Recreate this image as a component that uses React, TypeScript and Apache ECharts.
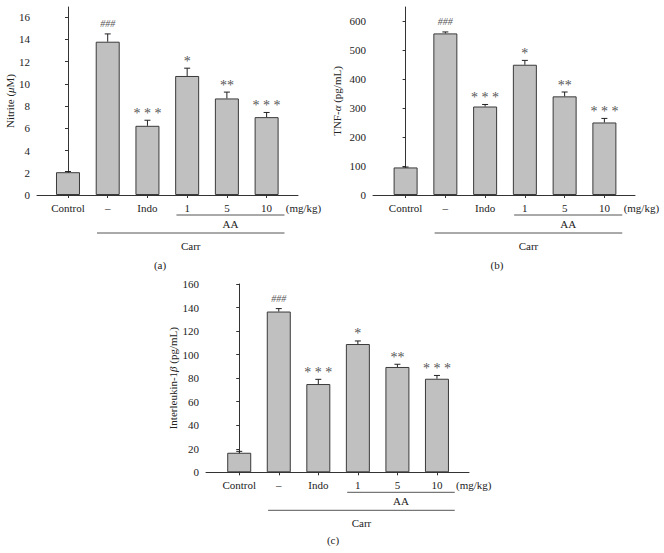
import React, { useEffect, useRef } from "react";
import * as echarts from "echarts";

const categories = ["Control", "–", "Indo", "1", "5", "10"];
const unitLabel = "(mg/kg)";
const nitriteMean = [2.05, 13.78, 6.22, 10.7, 8.68, 7.0];
const nitriteErr = [0.06, 0.7, 0.5, 0.7, 0.57, 0.42];
const tnfMean = [95, 557, 305, 449, 340, 250];
const tnfErr = [1.5, 5, 7, 15, 15, 14];
const il1bMean = [16.6, 136.6, 75, 109, 89.5, 79.5];
const il1bErr = [1.2, 2.5, 4, 2.6, 2.3, 2.8];
const significance = ["", "###", "* * *", "*", "**", "* * *"];
const nitriteTicks = [0, 2, 4, 6, 8, 10, 12, 14, 16];
const tnfTicks = [0, 100, 200, 300, 400, 500, 600];
const il1bTicks = [0, 20, 40, 60, 80, 100, 120, 140, 160];
const groupLabels = ["AA", "Carr"];
const groupFrom = [3, 1];
const groupTo = [5, 5];
const panelLetters = ["(a)", "(b)", "(c)"];

const FONT = "Liberation Serif";
const catIdx = categories.map((_, i) => i);
const unitPos = 5.93;

export default function App() {
  const ref = useRef<HTMLDivElement>(null);
  useEffect(() => {
    if (!ref.current) return;
    const chart = echarts.init(ref.current, null, { renderer: "svg" });

    const panels = [
      { mean: nitriteMean, err: nitriteErr, ticks: nitriteTicks, name: "Nitrite ({i|μ}M)",
        grid: { left: 37, top: 7, width: 261, height: 188 }, yMax: 16.9, xMin: -0.78, xMax: 5.79, nameGap: 20,
        cap: [160, 265] },
      { mean: tnfMean, err: tnfErr, ticks: tnfTicks, name: "TNF-{i|α} (pg/mL)",
        grid: { left: 373, top: 7, width: 262, height: 188 }, yMax: 648, xMin: -0.82, xMax: 5.77, nameGap: 31,
        cap: [497, 265] },
      { mean: il1bMean, err: il1bErr, ticks: il1bTicks, name: "Interleukin-1{i|β} (pg/mL)",
        grid: { left: 206, top: 284, width: 263, height: 188.3 }, yMax: 160, xMin: -0.84, xMax: 5.81, nameGap: 19,
        cap: [333, 540] },
    ];

    const axisLineStyle = { color: "#333", width: 1 };
    const textStyle = { fontFamily: FONT, fontSize: 11, fill: "#222", stroke: "none", lineWidth: 0, textAlign: "center", textVerticalAlign: "middle" };
    const grids: any[] = [];
    const xAxes: any[] = [];
    const yAxes: any[] = [];
    const series: any[] = [];
    const graphics: any[] = [];

    panels.forEach((p, k) => {
      grids.push({ ...p.grid, containLabel: false });
      xAxes.push({
        type: "value", gridIndex: k, min: p.xMin, max: p.xMax,
        axisLine: { show: true, onZero: false, lineStyle: axisLineStyle },
        splitLine: { show: false },
        axisTick: { show: true, length: 3, customValues: catIdx, lineStyle: axisLineStyle },
        axisLabel: { show: false },
      });
      yAxes.push({
        type: "value", gridIndex: k, min: 0, max: p.yMax,
        name: p.name, nameLocation: "middle", nameRotate: 90, nameGap: p.nameGap,
        nameTextStyle: { fontFamily: FONT, fontSize: 11, color: "#222", rich: { i: { fontFamily: FONT, fontSize: 11, fontStyle: "italic", color: "#222" } } },
        axisLine: { show: true, lineStyle: axisLineStyle },
        splitLine: { show: false },
        axisTick: { show: true, length: 3, customValues: p.ticks, lineStyle: axisLineStyle },
        axisLabel: { customValues: p.ticks, margin: 7, fontFamily: FONT, fontSize: 11, color: "#222" },
      });
      series.push({
        type: "bar", xAxisIndex: k, yAxisIndex: k, barWidth: 24,
        data: p.mean.map((v, i) => [i, v]),
        itemStyle: { color: "#c0c0c0", borderColor: "#3a3a3a", borderWidth: 1 },
      });
      series.push({
        type: "custom", xAxisIndex: k, yAxisIndex: k, clip: false, z: 5,
        data: p.mean.map((v, i) => [i, v, p.err[i]]),
        encode: { x: 0, y: 1 },
        renderItem: (params: any, api: any) => {
          const x = api.value(0), v = api.value(1), e = api.value(2);
          const p0 = api.coord([x, v]);
          const p1 = api.coord([x, v + e]);
          const base = api.coord([x, 0]);
          const sig = significance[params.dataIndex];
          const hash = sig.startsWith("#");
          return {
            type: "group",
            children: [
              { type: "line", shape: { x1: p0[0], y1: p0[1], x2: p1[0], y2: p1[1] }, style: { stroke: "#222", lineWidth: 1 } },
              { type: "line", shape: { x1: p1[0] - 3, y1: p1[1], x2: p1[0] + 3, y2: p1[1] }, style: { stroke: "#222", lineWidth: 1 } },
              {
                type: "text", x: p1[0], y: p1[1] - (hash ? 5 : 0),
                style: {
                  text: sig, textAlign: "center", textVerticalAlign: "bottom", stroke: "none", lineWidth: 0,
                  fontFamily: FONT, fontSize: hash ? 10 : 14, fontStyle: hash ? "italic" : "normal", fill: "#555",
                },
              },
              {
                type: "text", x: base[0], y: base[1] + 13,
                style: { ...textStyle, text: categories[params.dataIndex] },
              },
            ],
          };
        },
      });
      series.push({
        type: "custom", xAxisIndex: k, yAxisIndex: k, clip: false, silent: true,
        data: groupLabels.map((_, g) => [groupFrom[g] - 0.27, groupTo[g] + 0.45, g]),
        encode: { x: [0, 1] },
        renderItem: (params: any, api: any) => {
          const row = api.value(2);
          const a = api.coord([api.value(0), 0]);
          const b = api.coord([api.value(1), 0]);
          const y = a[1] + 20 + row * 18;
          return {
            type: "group",
            children: [
              { type: "line", shape: { x1: a[0], y1: y, x2: b[0], y2: y }, style: { stroke: "#555", lineWidth: 1 } },
              {
                type: "text", x: (a[0] + b[0]) / 2, y: y + (row ? 13 : 9),
                style: { ...textStyle, text: groupLabels[params.dataIndex] },
              },
            ],
          };
        },
      });
      series.push({
        type: "custom", xAxisIndex: k, yAxisIndex: k, clip: false, silent: true,
        data: [[unitPos, 0]],
        encode: { x: 0, y: 1 },
        renderItem: (params: any, api: any) => {
          const c = api.coord([api.value(0), 0]);
          return {
            type: "text", x: c[0], y: c[1] + 13,
            style: { ...textStyle, text: unitLabel },
          };
        },
      });
      graphics.push({
        type: "text", x: p.cap[0], y: p.cap[1],
        style: { ...textStyle, text: panelLetters[k] },
      });
    });

    chart.setOption({
      animation: false,
      backgroundColor: "#ffffff",
      grid: grids,
      xAxis: xAxes,
      yAxis: yAxes,
      series,
      graphic: graphics,
    });
    return () => chart.dispose();
  }, []);
  return <div ref={ref} style={{ position: "absolute", left: 0, top: 0, width: 664, height: 553 }} />;
}
